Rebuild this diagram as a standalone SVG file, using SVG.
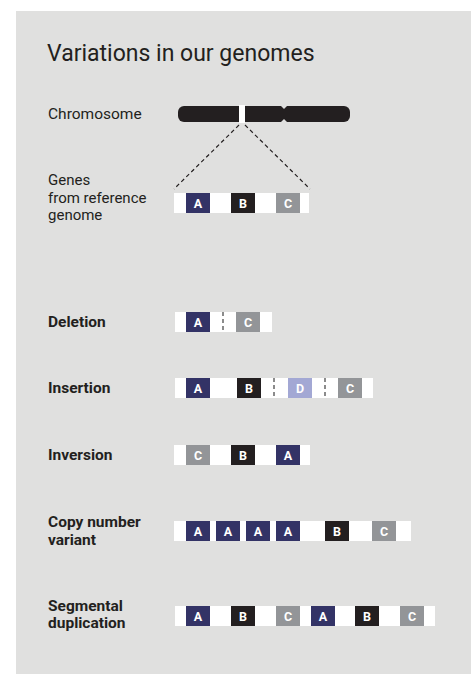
<svg xmlns="http://www.w3.org/2000/svg" width="472" height="674" viewBox="0 0 472 674">
<style>
text{font-family:Roboto,"Liberation Sans",sans-serif;fill:#231f20}
.title{font-size:23px}
.lbl{font-size:15.5px}
.lbl2{font-size:15px}
.bl{font-size:15.5px;font-weight:bold}
.strip{fill:#ffffff}
.a{fill:#333366}.b{fill:#231f20}.c{fill:#939598}.d{fill:#a3a8d4}
.g{font-size:12.5px;font-weight:bold;fill:#ffffff;text-anchor:middle}
.sep{stroke:#666;stroke-width:1.5;stroke-dasharray:4 3}
.conn{stroke:#231f20;stroke-width:1.2;stroke-dasharray:4 3;fill:none}
</style>
<rect x="16" y="11" width="455" height="663" fill="#e0e0df"/>
<text class="title" x="47" y="61">Variations in our genomes</text>

<g id="chromosome">
<text class="lbl" x="48" y="119">Chromosome</text>
<rect x="178" y="106" width="172" height="16" rx="6" fill="#231f20"/>
<polygon points="281,106 287,106 284,109" fill="#e0e0df"/>
<polygon points="281,122 287,122 284,119" fill="#e0e0df"/>
<rect x="239" y="105" width="6" height="18" fill="#ffffff"/>
</g>

<g id="connectors">
<line class="conn" x1="239" y1="125" x2="174" y2="189"/>
<line class="conn" x1="245" y1="125" x2="310" y2="189"/>
</g>

<g id="reference">
<text class="lbl2" x="48" y="185">Genes</text>
<text class="lbl2" x="48" y="202.5">from reference</text>
<text class="lbl2" x="48" y="220">genome</text>
<rect class="strip" x="174" y="193" width="135" height="20"/>
<rect class="a" x="186" y="193" width="24" height="20"/><text class="g" x="198" y="207.5">A</text>
<rect class="b" x="231" y="193" width="24" height="20"/><text class="g" x="243" y="207.5">B</text>
<rect class="c" x="276" y="193" width="24" height="20"/><text class="g" x="288" y="207.5">C</text>
</g>

<g id="deletion">
<text class="bl" x="48" y="327">Deletion</text>
<rect class="strip" x="175" y="312" width="97" height="20"/>
<rect class="a" x="186" y="312" width="24" height="20"/><text class="g" x="198" y="326.5">A</text>
<line class="sep" x1="223" y1="312" x2="223" y2="332"/>
<rect class="c" x="236" y="312" width="24" height="20"/><text class="g" x="248" y="326.5">C</text>
</g>

<g id="insertion">
<text class="bl" x="48" y="393">Insertion</text>
<rect class="strip" x="175" y="378" width="198" height="20"/>
<rect class="a" x="186" y="378" width="24" height="20"/><text class="g" x="198" y="392.5">A</text>
<rect class="b" x="237" y="378" width="24" height="20"/><text class="g" x="249" y="392.5">B</text>
<line class="sep" x1="274" y1="378" x2="274" y2="398"/>
<rect class="d" x="288" y="378" width="24" height="20"/><text class="g" x="300" y="392.5">D</text>
<line class="sep" x1="325" y1="378" x2="325" y2="398"/>
<rect class="c" x="338" y="378" width="24" height="20"/><text class="g" x="350" y="392.5">C</text>
</g>

<g id="inversion">
<text class="bl" x="48" y="460">Inversion</text>
<rect class="strip" x="174" y="445" width="136" height="20"/>
<rect class="c" x="186" y="445" width="24" height="20"/><text class="g" x="198" y="459.5">C</text>
<rect class="b" x="231" y="445" width="24" height="20"/><text class="g" x="243" y="459.5">B</text>
<rect class="a" x="276" y="445" width="24" height="20"/><text class="g" x="288" y="459.5">A</text>
</g>

<g id="copy-number-variant">
<text class="bl" x="48" y="527">Copy number</text>
<text class="bl" x="48" y="545">variant</text>
<rect class="strip" x="174" y="521" width="237" height="20"/>
<rect class="a" x="186" y="521" width="24" height="20"/><text class="g" x="198" y="535.5">A</text>
<rect class="a" x="216" y="521" width="24" height="20"/><text class="g" x="228" y="535.5">A</text>
<rect class="a" x="246" y="521" width="24" height="20"/><text class="g" x="258" y="535.5">A</text>
<rect class="a" x="276" y="521" width="24" height="20"/><text class="g" x="288" y="535.5">A</text>
<rect class="b" x="325" y="521" width="24" height="20"/><text class="g" x="337" y="535.5">B</text>
<rect class="c" x="372" y="521" width="24" height="20"/><text class="g" x="384" y="535.5">C</text>
</g>

<g id="segmental-duplication">
<text class="bl" x="48" y="611">Segmental</text>
<text class="bl" x="48" y="628">duplication</text>
<rect class="strip" x="175" y="606" width="260" height="20"/>
<rect class="a" x="186" y="606" width="24" height="20"/><text class="g" x="198" y="620.5">A</text>
<rect class="b" x="231" y="606" width="24" height="20"/><text class="g" x="243" y="620.5">B</text>
<rect class="c" x="276" y="606" width="24" height="20"/><text class="g" x="288" y="620.5">C</text>
<rect class="a" x="311" y="606" width="24" height="20"/><text class="g" x="323" y="620.5">A</text>
<rect class="b" x="355" y="606" width="24" height="20"/><text class="g" x="367" y="620.5">B</text>
<rect class="c" x="400" y="606" width="24" height="20"/><text class="g" x="412" y="620.5">C</text>
</g>
</svg>
